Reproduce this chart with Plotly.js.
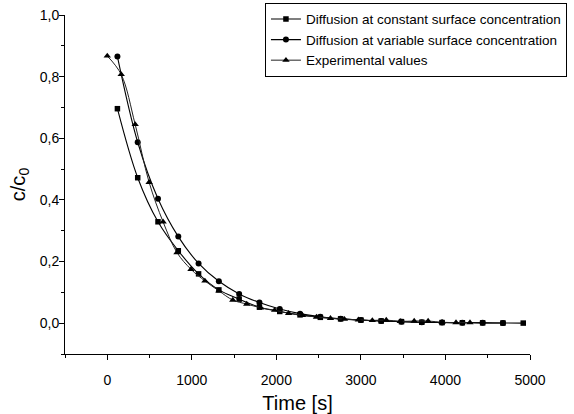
<!DOCTYPE html>
<html>
<head>
<meta charset="utf-8">
<script src="https://cdn.plot.ly/plotly-3.0.1.min.js"></script>
<style>html,body{margin:0;padding:0;background:#fff;}#chart{width:574px;height:414px;}</style>
</head>
<body>
<div id="chart"></div>
<script>
// Diffusion at constant surface concentration (squares)
const tConst = [120,360,600,840,1080,1320,1560,1800,2040,2280,2520,2760,3000,3240,3480,3720,3960,4200,4440,4680,4920];
const cConst = [0.696,0.472,0.329,0.235,0.160,0.108,0.078,0.052,0.038,0.027,0.019,0.014,0.010,0.007,0.005,0.003,0.002,0.0015,0.001,0.0005,0.0003];

// Diffusion at variable surface concentration (circles)
const tVar = [120,360,600,840,1080,1320,1560,1800,2040,2280,2520,2760,3000,3240,3480,3720,3960,4200,4440,4680];
const cVar = [0.865,0.587,0.404,0.281,0.194,0.136,0.095,0.067,0.046,0.031,0.021,0.014,0.010,0.007,0.005,0.003,0.002,0.0015,0.001,0.0006];

// Experimental values (triangles)
const tExp = [0,165,330,495,660,825,990,1155,1320,1485,1650,1815,1980,2145,2310,2475,2640,2805,2970,3135,3300,3465,3630,3795,3960,4125,4290];
const cExp = [0.867,0.807,0.645,0.457,0.329,0.229,0.175,0.137,0.105,0.075,0.062,0.050,0.042,0.032,0.025,0.020,0.016,0.013,0.011,0.009,0.010,0.006,0.007,0.007,0.003,0.002,0.002];

const seriesNames = ["Diffusion at constant surface concentration","Diffusion at variable surface concentration","Experimental values"];

const traces = [
  {x:tConst, y:cConst, name:seriesNames[0], mode:'lines+markers', type:'scatter',
   line:{color:'#000', width:1.1, shape:'spline'}, marker:{symbol:'square', size:5.5, color:'#000'}},
  {x:tVar, y:cVar, name:seriesNames[1], mode:'lines+markers', type:'scatter',
   line:{color:'#000', width:1.1, shape:'spline'}, marker:{symbol:'circle', size:6, color:'#000'}},
  {x:tExp, y:cExp, name:seriesNames[2], mode:'lines+markers', type:'scatter',
   line:{color:'#222', width:1, shape:'spline'}, marker:{symbol:'triangle-up', size:6.5, color:'#000'}}
];

const layout = {
  width:574, height:414,
  margin:{l:65, r:44, t:15, b:60, pad:0, autoexpand:false},
  paper_bgcolor:'#fff', plot_bgcolor:'#fff',
  separators:',.',
  font:{family:'Liberation Sans, Arial, sans-serif', color:'#000', size:14},
  showlegend:true,
  legend:{x:0.43, y:1.036, xanchor:'left', yanchor:'top', bordercolor:'#000', borderwidth:1,
          bgcolor:'#fff', font:{size:13.5, family:'Liberation Sans, Arial, sans-serif'}, tracegroupgap:0},
  xaxis:{range:[-500,5000], tick0:0, dtick:1000, ticks:'outside', ticklen:5, tickwidth:1, tickcolor:'#000',
         ticklabelstandoff:8, automargin:false,
         showline:true, linecolor:'#000', linewidth:1, showgrid:false, zeroline:false,
         minor:{dtick:500, tick0:0, ticks:'outside', ticklen:3, tickcolor:'#000', showgrid:false},
         tickfont:{size:14}, title:{text:'Time [s]', font:{size:20}, standoff:10}},
  yaxis:{range:[-0.1,1.0], tick0:0, dtick:0.2, tickformat:'.1f', ticks:'outside', ticklen:5, tickwidth:1, tickcolor:'#000',
         ticklabelstandoff:-3, automargin:false,
         showline:true, linecolor:'#000', linewidth:1, showgrid:false, zeroline:false,
         minor:{dtick:0.1, tick0:0, ticks:'outside', ticklen:3, tickcolor:'#000', showgrid:false},
         tickfont:{size:14}, title:{text:'c/c<sub>0</sub>', font:{size:20}, standoff:8}}
};

Plotly.newPlot('chart', traces, layout, {displayModeBar:false, staticPlot:true});
</script>
</body>
</html>
